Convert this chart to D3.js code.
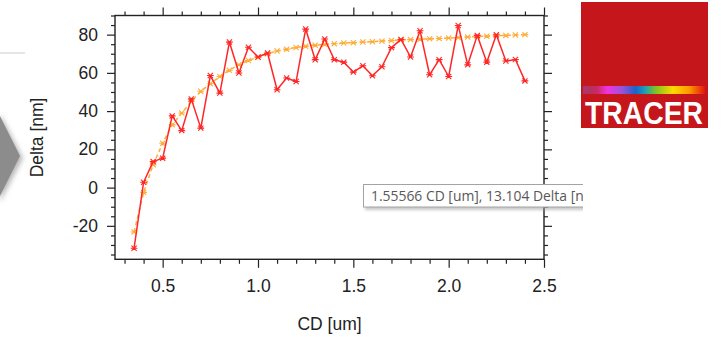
<!DOCTYPE html>
<html>
<head>
<meta charset="utf-8">
<script src="https://cdn.jsdelivr.net/npm/d3@7"></script>
<style>
  html, body { margin: 0; padding: 0; background: #fff; }
  svg { display: block; }
</style>
</head>
<body>
<div id="chart"></div>
<script>
// CD (um) sample positions
const cd = [0.35, 0.40, 0.45, 0.50, 0.55, 0.60, 0.65, 0.70, 0.75, 0.80,
            0.85, 0.90, 0.95, 1.00, 1.05, 1.10, 1.15, 1.20, 1.25, 1.30,
            1.35, 1.40, 1.45, 1.50, 1.55, 1.60, 1.65, 1.70, 1.75, 1.80,
            1.85, 1.90, 1.95, 2.00, 2.05, 2.10, 2.15, 2.20, 2.25, 2.30,
            2.35, 2.40];

// measured Delta (nm)
const deltaMeasured = [-31.7, 2.8, 13.6, 15.4, 37.5, 29.8, 46.4, 31.1, 58.6, 49.4,
                       76.1, 59.9, 73.4, 68.3, 70.4, 51.2, 57.3, 55.5, 82.9, 66.9,
                       77.7, 66.9, 65.6, 60.4, 63.7, 58.5, 63.2, 73.2, 77.5, 68.3,
                       82.0, 59.0, 66.9, 58.1, 84.8, 64.2, 79.6, 65.6, 79.9, 66.2,
                       67.0, 55.8];

// fitted Delta (nm)
const deltaFit = [-23.2, -2.5, 11.9, 23.2, 32.8, 39.0, 45.0, 50.4, 54.3, 58.1,
                  61.4, 64.2, 66.5, 68.2, 70.0, 71.4, 72.4, 73.3, 73.9, 74.5,
                  74.9, 75.2, 75.6, 75.8, 76.1, 76.3, 76.6, 76.9, 77.2, 77.4,
                  77.6, 77.8, 78.0, 78.2, 78.5, 78.7, 79.0, 79.2, 79.4, 79.6,
                  79.8, 80.0];

const xTicks = [0.5, 1.0, 1.5, 2.0, 2.5];
const yTicks = [-20, 0, 20, 40, 60, 80];
const xTickLabels = ["0.5", "1.0", "1.5", "2.0", "2.5"];
const yTickLabels = ["-20", "0", "20", "40", "60", "80"];
const xTitle = "CD [um]";
const yTitle = "Delta [nm]";
const tooltipText = "1.55566 CD [um], 13.104 Delta [nm]";
const logoText = "TRACER";

const W = 721, H = 337;
const plot = { left: 115, right: 544, top: 15.5, bottom: 259.3 };

const svg = d3.select("#chart").append("svg")
  .attr("width", W).attr("height", H)
  .style("font-family", "'Liberation Sans', Arial, sans-serif");

const defs = svg.append("defs");

// ---------- left-edge decoration: rule and grey chevron ----------
svg.append("line")
  .attr("x1", 0).attr("x2", 25).attr("y1", 53).attr("y2", 53)
  .attr("stroke", "#e6e6e6").attr("stroke-width", 2);

const shadow = defs.append("filter").attr("id", "soft")
  .attr("x", "-50%").attr("y", "-50%").attr("width", "200%").attr("height", "200%");
shadow.append("feGaussianBlur").attr("stdDeviation", 2.5);

svg.append("path")
  .attr("d", "M0,114 L23,158 L0,202 Z")
  .attr("fill", "#b8b8b8").attr("filter", "url(#soft)");
svg.append("path")
  .attr("d", "M0,116 L20,156 L0,196 Z")
  .attr("fill", "#8c8c8c");

// ---------- scales ----------
const x = d3.scaleLinear().domain([0.25, 2.5]).range([plot.left, plot.right]);
const y = d3.scaleLinear().domain([-37.5, 90]).range([plot.bottom, plot.top]);

const xMinor = d3.range(3, 25).map(d => d / 10).filter(d => !xTicks.some(t => Math.abs(t - d) < 1e-6));
const yMinor = d3.range(-35, 91, 5).filter(d => !yTicks.includes(d));

// ---------- axes ----------
function styleAxis(g) {
  g.select(".domain").remove();
  g.selectAll(".tick line").attr("stroke", "#222").attr("stroke-width", 1.2);
  g.selectAll(".tick text").attr("fill", "#222").style("font-size", "17.5px")
    .style("font-family", "'Liberation Sans', Arial, sans-serif");
}

// bottom
svg.append("g").attr("transform", `translate(0,${plot.bottom})`)
  .call(d3.axisBottom(x).tickValues(xMinor).tickSize(4.5).tickFormat(""))
  .call(styleAxis);
svg.append("g").attr("transform", `translate(0,${plot.bottom})`)
  .call(d3.axisBottom(x).tickValues(xTicks).tickSize(8.5).tickPadding(12)
        .tickFormat((d, i) => xTickLabels[i]))
  .call(styleAxis);
// top
svg.append("g").attr("transform", `translate(0,${plot.top})`)
  .call(d3.axisTop(x).tickValues(xMinor).tickSize(4).tickFormat(""))
  .call(styleAxis);
svg.append("g").attr("transform", `translate(0,${plot.top})`)
  .call(d3.axisTop(x).tickValues(xTicks).tickSize(8).tickFormat(""))
  .call(styleAxis);
// left
svg.append("g").attr("transform", `translate(${plot.left},0)`)
  .call(d3.axisLeft(y).tickValues(yMinor).tickSize(4).tickFormat(""))
  .call(styleAxis);
svg.append("g").attr("transform", `translate(${plot.left},0)`)
  .call(d3.axisLeft(y).tickValues(yTicks).tickSize(8).tickPadding(9)
        .tickFormat((d, i) => yTickLabels[i]))
  .call(styleAxis);
// right
svg.append("g").attr("transform", `translate(${plot.right},0)`)
  .call(d3.axisRight(y).tickValues(yMinor).tickSize(4).tickFormat(""))
  .call(styleAxis);
svg.append("g").attr("transform", `translate(${plot.right},0)`)
  .call(d3.axisRight(y).tickValues(yTicks).tickSize(8).tickFormat(""))
  .call(styleAxis);

// frame
svg.append("rect")
  .attr("x", plot.left).attr("y", plot.top)
  .attr("width", plot.right - plot.left).attr("height", plot.bottom - plot.top)
  .attr("fill", "none").attr("stroke", "#222").attr("stroke-width", 1.4);

// axis titles
svg.append("text")
  .attr("x", (plot.left + plot.right) / 2).attr("y", 330)
  .attr("text-anchor", "middle").attr("fill", "#222")
  .style("font-size", "17.5px").text(xTitle);
svg.append("text")
  .attr("transform", `translate(43,${(plot.top + plot.bottom) / 2}) rotate(-90)`)
  .attr("text-anchor", "middle").attr("fill", "#222")
  .style("font-size", "17.5px").text(yTitle);

// ---------- series ----------
const fitPts = cd.map((c, i) => [c, deltaFit[i]]);
const measPts = cd.map((c, i) => [c, deltaMeasured[i]]);
const line = d3.line().x(d => x(d[0])).y(d => y(d[1]));

const markerPath = s => `M${-s},${-s}L${s},${s}M${-s},${s}L${s},${-s}M${-s - 0.8},0L${s + 0.8},0`;

// fitted curve: dashed orange
svg.append("path").datum(fitPts)
  .attr("d", line).attr("fill", "none")
  .attr("stroke", "#ffad3a").attr("stroke-width", 1.5)
  .attr("stroke-dasharray", "4,3");
svg.append("g").selectAll("path").data(fitPts).join("path")
  .attr("transform", d => `translate(${x(d[0])},${y(d[1])})`)
  .attr("d", markerPath(2.6))
  .attr("stroke", "#ffad3a").attr("stroke-width", 1.1).attr("fill", "none");

// measured: solid red
svg.append("path").datum(measPts)
  .attr("d", line).attr("fill", "none")
  .attr("stroke", "#ff2626").attr("stroke-width", 1.5)
  .attr("stroke-linejoin", "round");
svg.append("g").selectAll("path").data(measPts).join("path")
  .attr("transform", d => `translate(${x(d[0])},${y(d[1])})`)
  .attr("d", markerPath(2.6))
  .attr("stroke", "#ff2626").attr("stroke-width", 1.1).attr("fill", "none");

// ---------- hover tooltip ----------
defs.append("clipPath").attr("id", "tipClip")
  .append("rect").attr("x", 350).attr("y", 170).attr("width", 233).attr("height", 50);
const tipShadow = defs.append("filter").attr("id", "tipShadow")
  .attr("x", "-10%").attr("y", "-50%").attr("width", "120%").attr("height", "200%");
tipShadow.append("feGaussianBlur").attr("stdDeviation", 1.6);

const tip = svg.append("g").attr("clip-path", "url(#tipClip)");
tip.append("rect")
  .attr("x", 365).attr("y", 187).attr("width", 240).attr("height", 23)
  .attr("fill", "#9a9a9a").attr("opacity", 0.55).attr("filter", "url(#tipShadow)");
tip.append("rect")
  .attr("x", 363.5).attr("y", 184.5).attr("width", 240).attr("height", 22.5)
  .attr("fill", "#fff").attr("stroke", "#a3a3a3").attr("stroke-width", 1);
tip.append("text")
  .attr("x", 371).attr("y", 201)
  .attr("fill", "#575757")
  .style("font-family", "'Open Sans', 'Noto Sans', sans-serif")
  .style("font-size", "13.9px")
  .text(tooltipText);

// ---------- logo ----------
const grad = defs.append("linearGradient").attr("id", "spectrum")
  .attr("x1", "0%").attr("x2", "100%").attr("y1", "0%").attr("y2", "0%");
[
  [0.00, "#a53a72"], [0.07, "#b8305a"], [0.12, "#cc2a6a"], [0.20, "#f034e0"],
  [0.32, "#9a52d8"], [0.43, "#1a62cc"], [0.51, "#1ea0b4"], [0.60, "#82c41e"],
  [0.74, "#ffd800"], [0.87, "#ff9a00"], [1.00, "#e4140e"]
].forEach(([o, c]) => grad.append("stop").attr("offset", o).attr("stop-color", c));

svg.append("rect").attr("x", 581).attr("y", 2).attr("width", 127).attr("height", 126)
  .attr("fill", "#c5161c");
svg.append("rect").attr("x", 583).attr("y", 86).attr("width", 122).attr("height", 8)
  .attr("fill", "url(#spectrum)");
svg.append("text")
  .attr("x", 585).attr("y", 124)
  .attr("fill", "#fff").style("font-weight", "bold").style("font-size", "31px")
  .attr("textLength", 118).attr("lengthAdjust", "spacingAndGlyphs")
  .text(logoText);
</script>
</body>
</html>
